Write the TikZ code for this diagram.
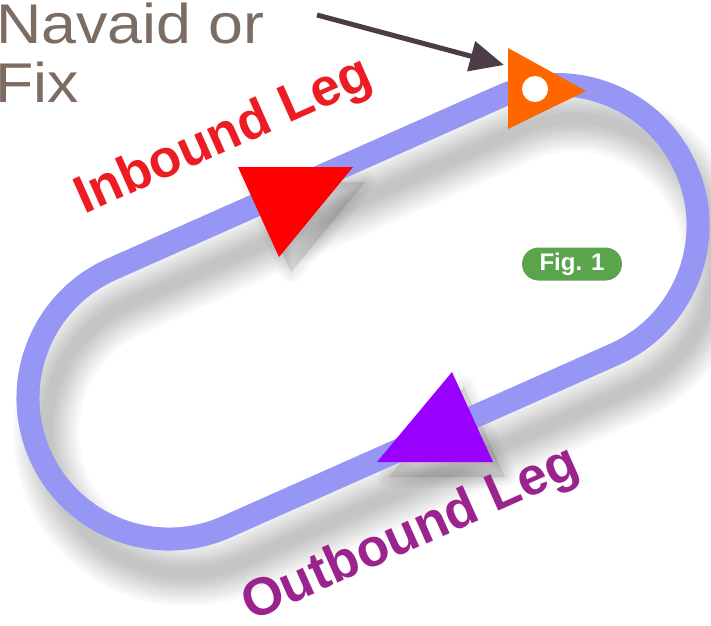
\documentclass[tikz,border=0pt]{standalone}
\usepackage{fontspec}
\setmainfont{Liberation Sans}
\usetikzlibrary{arrows.meta}
\definecolor{trackblue}{RGB}{150,150,245}
\definecolor{inred}{RGB}{237,28,36}
\definecolor{trired}{RGB}{255,0,0}
\definecolor{outpurple}{RGB}{155,35,142}
\definecolor{tripurple}{RGB}{153,0,255}
\definecolor{fixorange}{RGB}{255,102,0}
\definecolor{badgegreen}{RGB}{90,165,75}
\definecolor{navbrown}{RGB}{125,108,98}
\definecolor{pointergray}{RGB}{75,60,70}
\begin{document}
\begin{tikzpicture}[x=1pt,y=-1pt,
  trackline/.style={line width=23pt, draw=trackblue},
  shadowline/.style={draw=black, opacity=0.025},
  trishadow/.style={draw=black, fill=black, opacity=0.025, line join=round},
  leglabel/.style={font=\bfseries\fontsize{53}{53}\selectfont, inner sep=0pt, anchor=base west, rotate=24},
  navtext/.style={font=\fontsize{56}{56}\selectfont, text=navbrown, inner sep=0pt, anchor=base west},
  pointer/.style={draw=pointergray, line width=5pt, -{Triangle[length=34pt,width=30pt]}},
  figbadge/.style={fill=badgegreen, text=white, font=\bfseries\fontsize{24}{24}\selectfont, rounded corners=16.5pt, minimum width=100pt, minimum height=33pt, inner sep=0pt},
  fixhole/.style={circle, fill=white, minimum size=26pt, inner sep=0pt}
]
\useasboundingbox (0,0) rectangle (711,625);
\fill[white] (0,0) rectangle (711,625);
% track shadow (soft, offset down-right)
\foreach \w in {66,60,54,48,42,36,30,24,18,12} {
  \begin{scope}[shift={(187,432)}, rotate=23.96]
    \draw[shadowline, line width=\w pt] (0,-141) -- (424.6,-141) arc[start angle=-90, end angle=90, radius=141] -- (0,141) arc[start angle=90, end angle=270, radius=141] -- cycle;
  \end{scope}
}
% triangle shadows
\foreach \w in {22,16,10,4} {
  \draw[trishadow, line width=\w pt] (250,182) -- (365,182) -- (291,272) -- cycle;
  \draw[trishadow, line width=\w pt] (389,477) -- (505,477) -- (464,387) -- cycle;
}
% track
\begin{scope}[shift={(169,398)}, rotate=23.96]
  \draw[trackline] (0,-141) -- (424.6,-141) arc[start angle=-90, end angle=90, radius=141] -- (0,141) arc[start angle=90, end angle=270, radius=141] -- cycle;
\end{scope}
% direction triangles
\fill[trired] (238,167) -- (353,167) -- (279,257) -- cycle;
\fill[tripurple] (377,462) -- (493,462) -- (452,372) -- cycle;
% fix
\fill[fixorange] (508,48) -- (508,129) -- (586,91) -- cycle;
\node[fixhole] (fix) at (535,89) {};
% labels
\node[leglabel, text=inred] (inlabel) at (84,215) {Inbound Leg};
\node[leglabel, text=outpurple] (outlabel) at (251,622) {Outbound Leg};
\node[navtext] (navaid) at (-4,43) {\scalebox{1.12}[1]{Navaid or}};
\node[navtext] (fixtext) at (-5,102) {\scalebox{1.12}[1]{Fix}};
\node[figbadge] (fig) at (572,264) {Fig. 1};
% pointer
\coordinate (arrowstart) at (317,15);
\coordinate (arrowend) at (504,65);
\draw[pointer] (arrowstart) -- (arrowend);
\end{tikzpicture}
\end{document}
